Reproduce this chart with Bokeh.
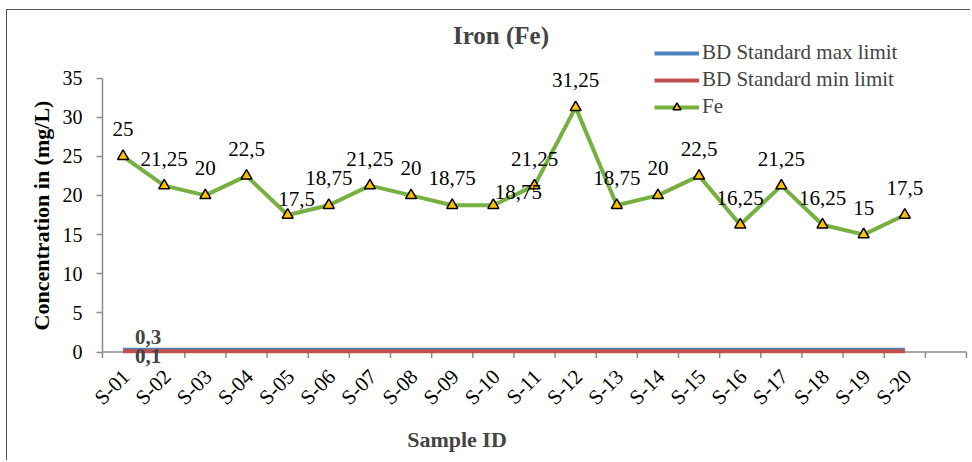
import math
from bokeh.plotting import figure
from bokeh.models import (ColumnDataSource, Range1d, FixedTicker, LabelSet, Label,
                          Legend, LegendItem)
from bokeh.embed import file_html
from bokeh.resources import INLINE
from bokeh.core.properties import value

samples = ["S-01", "S-02", "S-03", "S-04", "S-05", "S-06", "S-07", "S-08", "S-09", "S-10",
           "S-11", "S-12", "S-13", "S-14", "S-15", "S-16", "S-17", "S-18", "S-19", "S-20"]
fe = [25, 21.25, 20, 22.5, 17.5, 18.75, 21.25, 20, 18.75, 18.75,
      21.25, 31.25, 18.75, 20, 22.5, 16.25, 21.25, 16.25, 15, 17.5]
bd_max = [0.3] * 20
bd_min = [0.1] * 20
y_ticks = [0, 5, 10, 15, 20, 25, 30, 35]
y_max_tick = 35

FONT = "Liberation Serif"
AXIS_COLOR = "#8c8c8c"

# ---- layout geometry (page pixels) ----
W, H = 964, 451
CANVAS_LEFT, CANVAS_TOP = 7.5, 10.5
AXIS_LEFT_PX, AXIS_RIGHT_PX = 102.5, 966.5   # x extent of the category axis
Y0_PX = 352.0            # page y of value 0
PX_AXIS = 274.0          # pixel height of 0..35
ppu = PX_AXIS / y_max_tick
y_lo = -(CANVAS_TOP + H - Y0_PX) / ppu
y_hi = y_lo + H / ppu

xs = list(range(1, len(samples) + 1))
n_cat = len(samples) + 1
ppx = (AXIS_RIGHT_PX - AXIS_LEFT_PX) / n_cat
x_lo = 0.5 - (AXIS_LEFT_PX - CANVAS_LEFT) / ppx
x_hi = x_lo + W / ppx


def px_to_x(px):
    return 0.5 + (px - AXIS_LEFT_PX) / ppx


def py_to_y(py):
    return (Y0_PX - py) / ppu


def fmt(v):
    return ("%g" % v).replace(".", ",")


# label offsets (screen px): default above the point
dx = [0] * len(fe)
dy = [27] * len(fe)
dx[4], dy[4] = 9, 16      # S-05
dx[9], dy[9] = 25, 13     # S-10

src = ColumnDataSource(dict(x=xs, fe=fe, bmax=bd_max, bmin=bd_min,
                            lab=[fmt(v) for v in fe], dx=dx, dy=dy,
                            base=[0] * len(xs), sample=samples))
bounds = [x - 0.5 for x in xs] + [n_cat - 0.5, n_cat + 0.5]
tick_src = ColumnDataSource(dict(x=bounds, y0=[0] * len(bounds),
                                 y1=[-6 / ppu] * len(bounds)))

p = figure(width=W, height=H, x_range=Range1d(x_lo, x_hi),
           y_range=Range1d(y_lo, y_hi), output_backend="svg", toolbar_location=None,
           min_border_left=0, min_border_right=0, min_border_top=0,
           min_border_bottom=0, x_axis_location=None)
p.margin = (9, 0, 0, 6)
p.outline_line_color = None
p.xgrid.visible = False
p.ygrid.visible = False
p.background_fill_color = "white"
p.styles = {"border-left": "1.5px solid #555555", "border-top": "1.5px solid #555555"}

# x axis line and tick marks (category boundaries)
p.segment(x0=[0.5], y0=[0], x1=[n_cat + 0.5], y1=[0],
          line_color=AXIS_COLOR, line_width=1.5)
p.segment(x0="x", y0="y0", x1="x", y1="y1", source=tick_src,
          line_color=AXIS_COLOR, line_width=1.5)

r_max = p.line("x", "bmax", source=src, line_color="#4F81BD", line_width=4)
r_min = p.line("x", "bmin", source=src, line_color="#C0504D", line_width=4)
r_fe = p.line("x", "fe", source=src, line_color="#76B041", line_width=4)
r_fem = p.scatter("x", "fe", source=src, marker="triangle", size=11,
                  fill_color="#FFC000", line_color="black", line_width=1.5)

labels = LabelSet(x="x", y="fe", text="lab", source=src, x_offset="dx", y_offset="dy",
                  text_align="center", text_baseline="middle",
                  text_font=value(FONT), text_font_size="21px", text_color="black")
p.add_layout(labels)

# category tick labels (rotated)
xlabels = LabelSet(x="x", y="base", text="sample", source=src, angle=math.pi / 4,
                   x_offset=3, y_offset=-21, text_align="right", text_baseline="middle",
                   text_font=value(FONT), text_font_size="21px", text_color="black")
p.add_layout(xlabels)

p.add_layout(Label(x=1, y=bd_max[0], text=fmt(bd_max[0]), x_offset=25, y_offset=13,
                   text_align="center", text_baseline="middle", text_font=FONT,
                   text_font_size="21px", text_font_style="bold"))
p.add_layout(Label(x=1, y=bd_min[0], text=fmt(bd_min[0]), x_offset=25, y_offset=-5,
                   text_align="center", text_baseline="middle", text_font=FONT,
                   text_font_size="21px", text_font_style="bold"))

# y axis, drawn at the left edge of the category axis
ya = p.yaxis[0]
ya.fixed_location = 0.5
ya.bounds = (0, y_max_tick)
ya.ticker = FixedTicker(ticks=y_ticks, minor_ticks=[])
ya.major_tick_out = 6
ya.major_tick_in = 0
ya.major_tick_line_color = AXIS_COLOR
ya.major_tick_line_width = 1.5
ya.minor_tick_line_color = None
ya.axis_line_color = AXIS_COLOR
ya.axis_line_width = 1.5
ya.major_label_text_font = FONT
ya.major_label_text_font_size = "20px"
ya.major_label_text_color = "black"
ya.major_label_standoff = 14
ya.axis_label = "Concentration in (mg/L)"
ya.axis_label_text_font = FONT
ya.axis_label_text_font_size = "22px"
ya.axis_label_text_font_style = "bold"
ya.axis_label_text_color = "black"
ya.axis_label_standoff = 6

# chart title and x axis title
p.add_layout(Label(x=px_to_x(501), y=py_to_y(35), text="Iron (Fe)",
                   text_align="center", text_baseline="middle", text_font=FONT,
                   text_font_size="25px", text_font_style="bold"))
p.add_layout(Label(x=px_to_x(457), y=py_to_y(439), text="Sample ID",
                   text_align="center", text_baseline="middle", text_font=FONT,
                   text_font_size="22px", text_font_style="bold"))

legend = Legend(items=[
    LegendItem(label="BD Standard max limit", renderers=[r_max]),
    LegendItem(label="BD Standard min limit", renderers=[r_min]),
    LegendItem(label="Fe", renderers=[r_fe, r_fem]),
], location=(int(655 - CANVAS_LEFT), int(CANVAS_TOP + H - 120.5)))
legend.glyph_width = 45
legend.glyph_height = 20
legend.label_height = 27
legend.spacing = 0
legend.padding = 0
legend.margin = 0
legend.border_line_color = None
legend.background_fill_alpha = 0
legend.label_text_font = FONT
legend.label_text_font_size = "21px"
legend.label_standoff = 3
p.add_layout(legend)

open("out.html", "w").write(file_html(p, INLINE))
